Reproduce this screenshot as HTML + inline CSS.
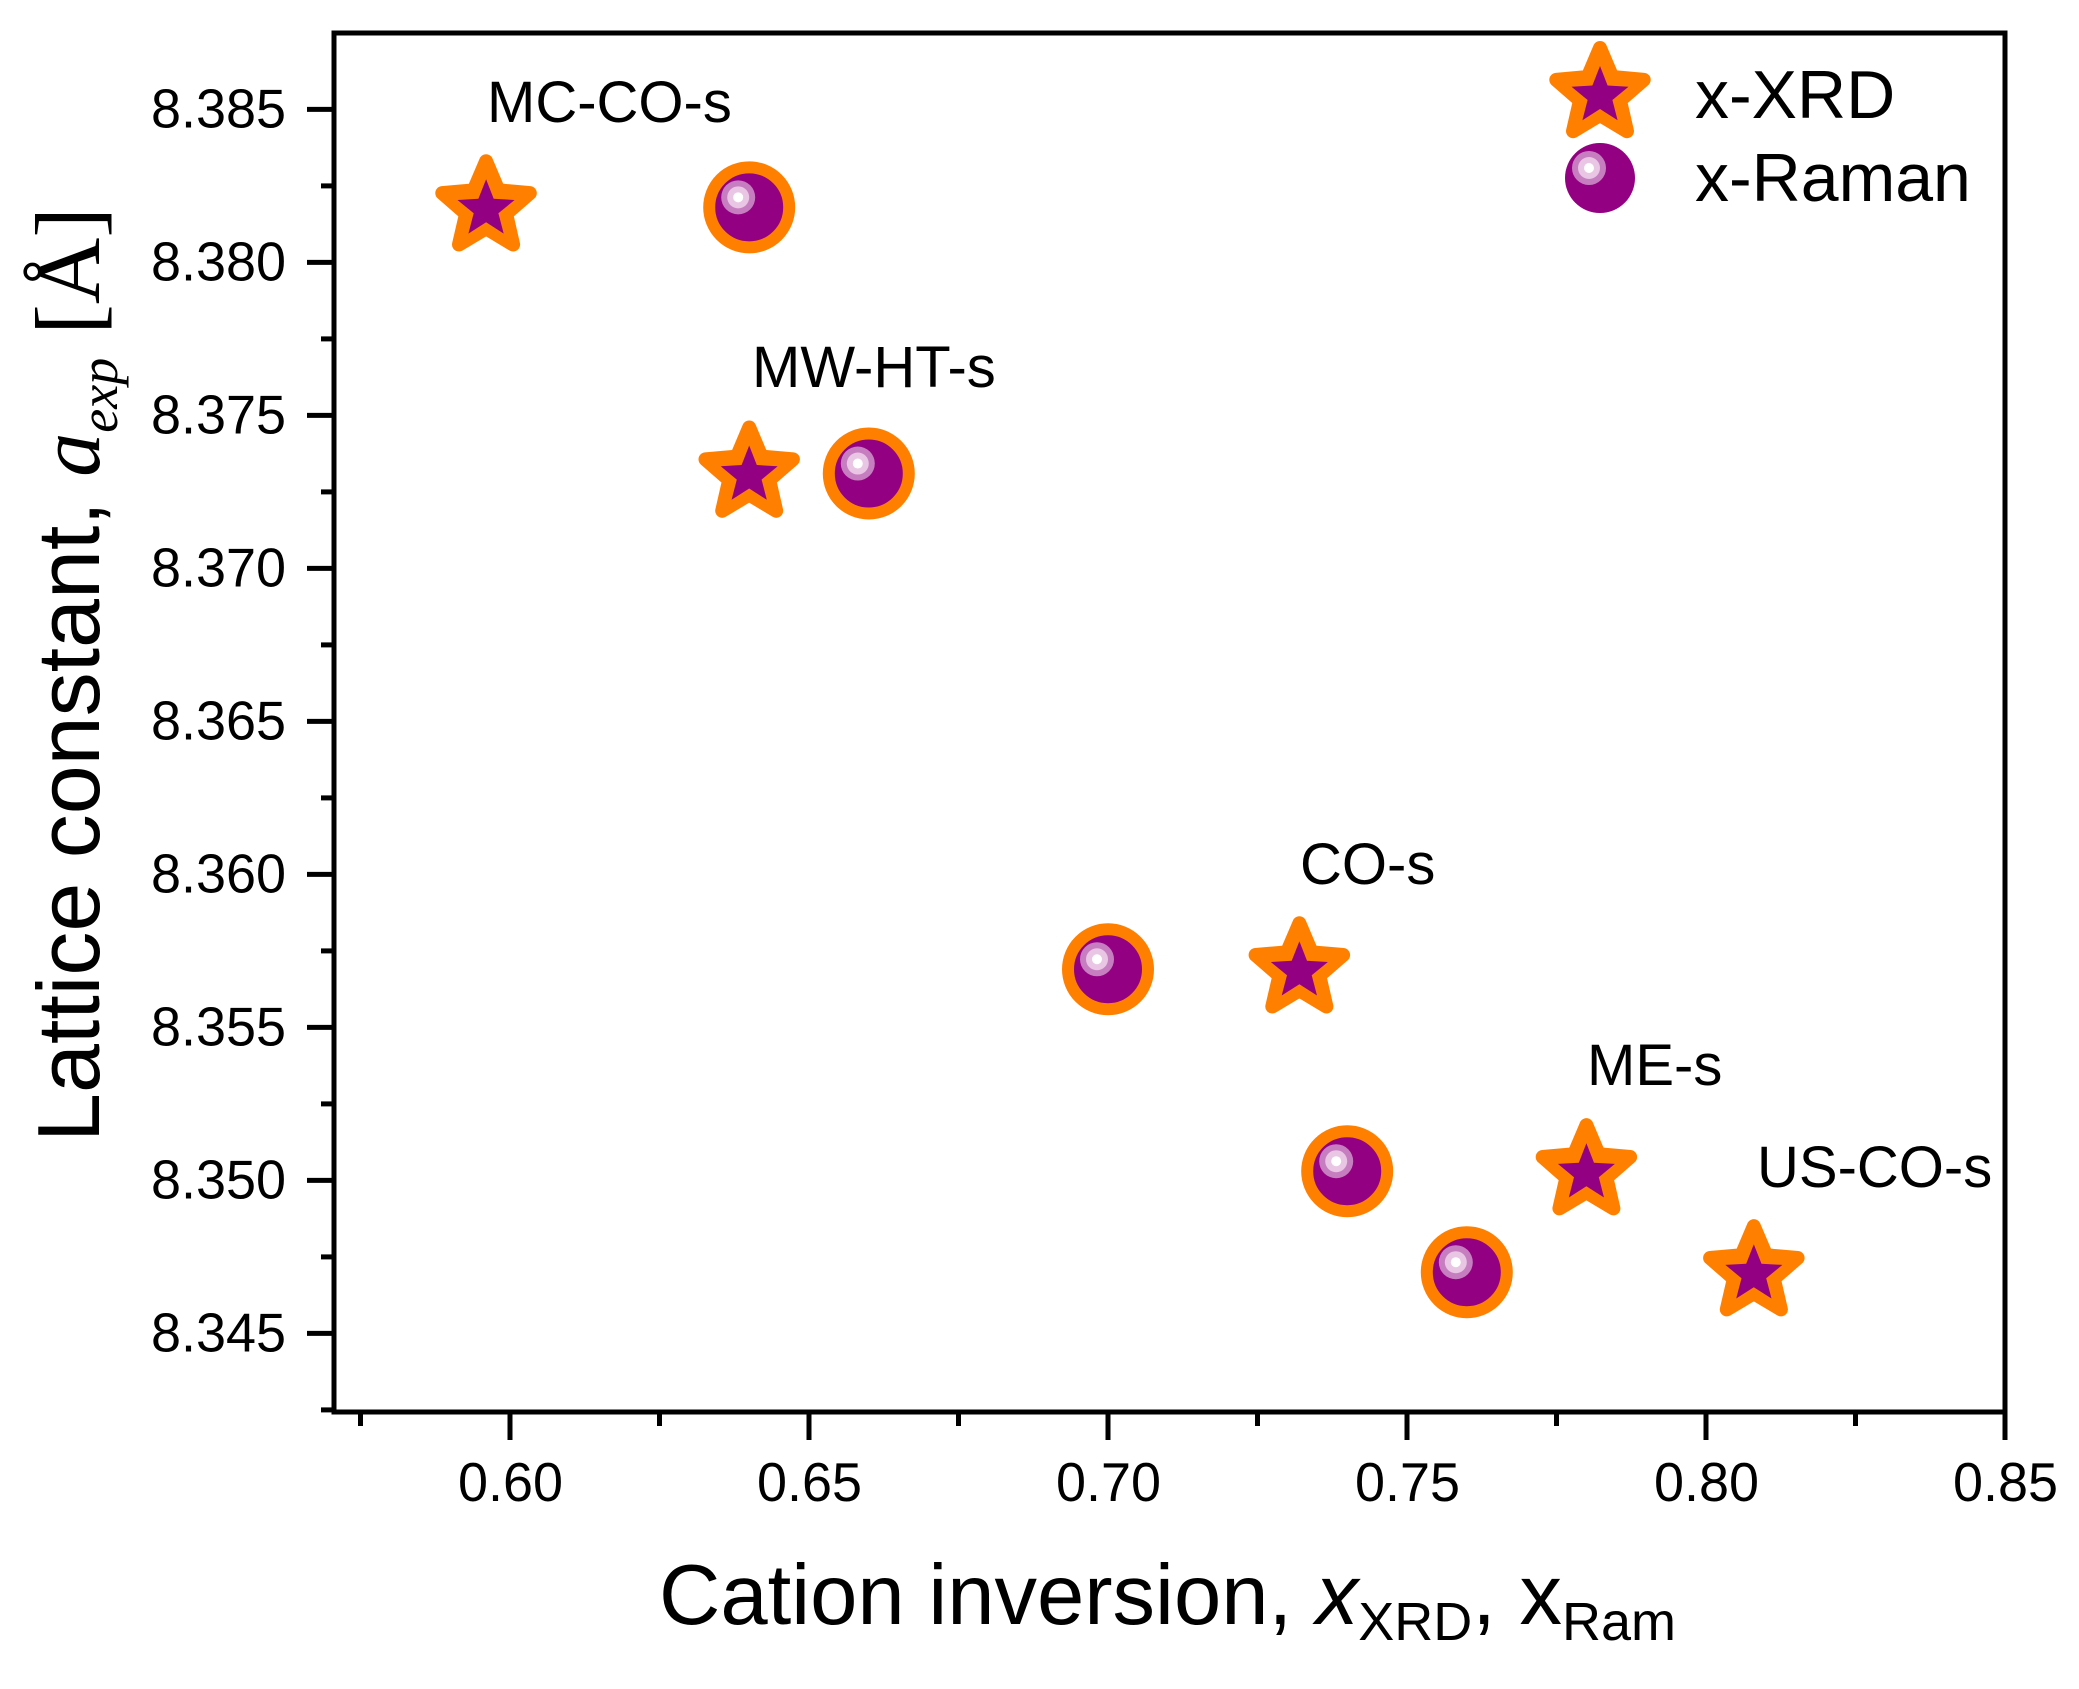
<!DOCTYPE html>
<html><head><meta charset="utf-8"><style>
html,body{margin:0;padding:0;background:#fff;}
svg{display:block;}
text{font-family:"Liberation Sans",Arial,sans-serif;fill:#000;}
</style></head><body>
<svg id="chart" width="2079" height="1689" viewBox="0 0 2079 1689" xmlns="http://www.w3.org/2000/svg">
<g id="axes"></g>
<g id="marks"></g>
<g id="labels"></g>
<text transform="translate(99,1142) rotate(-90)" font-size="88"><tspan>Lattice constant, </tspan><tspan font-family="Liberation Serif" font-style="italic">a</tspan><tspan font-family="Liberation Serif" font-style="italic" font-size="54" dy="18">exp</tspan><tspan font-family="Liberation Serif" font-size="92" dy="-18"> [Å]</tspan></text>
<text x="659" y="1624" font-size="85">Cation inversion, <tspan font-style="italic">x</tspan><tspan font-size="54" dy="16">XRD</tspan><tspan dy="-16">, x</tspan><tspan font-size="54" dy="16">Ram</tspan></text>
<g>
<g id="legStar"></g>
<text x="1695" y="118" font-size="68">x-XRD</text>
<g id="legCirc"></g>
<text x="1695" y="201" font-size="68">x-Raman</text>
</g>
</svg>
<script>
const sampleNames = ["MC-CO-s","MW-HT-s","CO-s","ME-s","US-CO-s"];
const xrdX = [0.596, 0.640, 0.732, 0.780, 0.808];
const ramanX = [0.640, 0.660, 0.700, 0.740, 0.760];
const latticeA = [8.3818, 8.3731, 8.3569, 8.3503, 8.3470];
const xTicks = [0.60, 0.65, 0.70, 0.75, 0.80, 0.85];
const yTicks = [8.345, 8.350, 8.355, 8.360, 8.365, 8.370, 8.375, 8.380, 8.385];

const NS = "http://www.w3.org/2000/svg";
const L = 334, R = 2005, T = 33, B = 1412;
function sx(v){ return 1108 + (v - 0.70) / 0.05 * 299; }
function sy(v){ return 109.4 + (8.385 - v) / 0.005 * 153; }
function el(tag, attrs, parent){
  const e = document.createElementNS(NS, tag);
  for (const k in attrs) e.setAttribute(k, attrs[k]);
  parent.appendChild(e); return e;
}
const axes = document.getElementById('axes');
const frame = el('rect', {x:L, y:T, width:R-L, height:B-T, fill:'none', stroke:'#000', 'stroke-width':5}, axes);


yTicks.forEach((v) => {
  const y = sy(v);
  const t = el('line', {x1:L-27, x2:L, y1:y, y2:y, stroke:'#000', 'stroke-width':5}, axes);
  
  
  const lab = el('text', {x:151, y:y+18, 'font-size':55, textLength:135, lengthAdjust:'spacingAndGlyphs'}, axes);
  lab.textContent = v.toFixed(3);
  
  
  const m = sy(v - 0.0025);
  if (m < B) {
    const mt = el('line', {x1:L-13, x2:L, y1:m, y2:m, stroke:'#000', 'stroke-width':5}, axes);
    
    
  }
});
const mTop = sy(8.3875);
if (mTop > T) { const mt = el('line', {x1:L-13, x2:L, y1:mTop, y2:mTop, stroke:'#000', 'stroke-width':5}, axes);
    }
xTicks.forEach(v => {
  const x = sx(v);
  const t = el('line', {x1:x, x2:x, y1:B, y2:B+28, stroke:'#000', 'stroke-width':5}, axes);
  
  
  const lab = el('text', {x:x-52, y:1501, 'font-size':55, textLength:105, lengthAdjust:'spacingAndGlyphs'}, axes);
  lab.textContent = v.toFixed(2);
  
  
  const m = sx(v - 0.025);
  if (m > L) {
    const mt = el('line', {x1:m, x2:m, y1:B, y2:B+14, stroke:'#000', 'stroke-width':5}, axes);
    
    
  }
});

function starPts(cx, cy, R1, r1){
  const p = [];
  for (let i = 0; i < 10; i++) {
    const a = -Math.PI/2 + i * Math.PI/5;
    const rr = i % 2 ? r1 : R1;
    p.push((cx + rr*Math.cos(a)).toFixed(1) + ',' + (cy + rr*Math.sin(a)).toFixed(1));
  }
  return p.join(' ');
}
function drawStar(parent, cx, cy){
  const g = el('g', {}, parent);
  el('polygon', {points:starPts(cx, cy, 46, 21), fill:'#FF8000', stroke:'#FF8000', 'stroke-width':14, 'stroke-linejoin':'round'}, g);
  el('polygon', {points:starPts(cx, cy+2, 30, 13), fill:'#930082'}, g);
  return g;
}
function drawBall(parent, cx, cy, ring){
  const g = el('g', {}, parent);
  if (ring) el('circle', {cx:cx, cy:cy, r:40, fill:'#930082', stroke:'#FF8000', 'stroke-width':12}, g);
  else el('circle', {cx:cx, cy:cy, r:35, fill:'#930082'}, g);
  el('circle', {cx:cx-11, cy:cy-10, r:17, fill:'#c77ec0'}, g);
  el('circle', {cx:cx-11, cy:cy-10, r:11, fill:'#e8c6e4'}, g);
  el('circle', {cx:cx-11, cy:cy-10, r:5, fill:'#fff'}, g);
  return g;
}
const marks = document.getElementById('marks');
latticeA.forEach((a, i) => {
  const b = drawBall(marks, sx(ramanX[i]), sy(a), true);
  
  
  const s = drawStar(marks, sx(xrdX[i]), sy(a));
  
  
});
const labels = document.getElementById('labels');
const labStart = [487, 752, 1300, 1587, 1757];
const labBase = [122, 387, 884, 1085, 1187];
sampleNames.forEach((n, i) => {
  const t = el('text', {x:labStart[i], y:labBase[i], 'font-size':58}, labels);
  t.textContent = n;
  
  
});
drawStar(document.getElementById('legStar'), 1600, 94);
drawBall(document.getElementById('legCirc'), 1600, 178, false);
</script>
</body></html>
